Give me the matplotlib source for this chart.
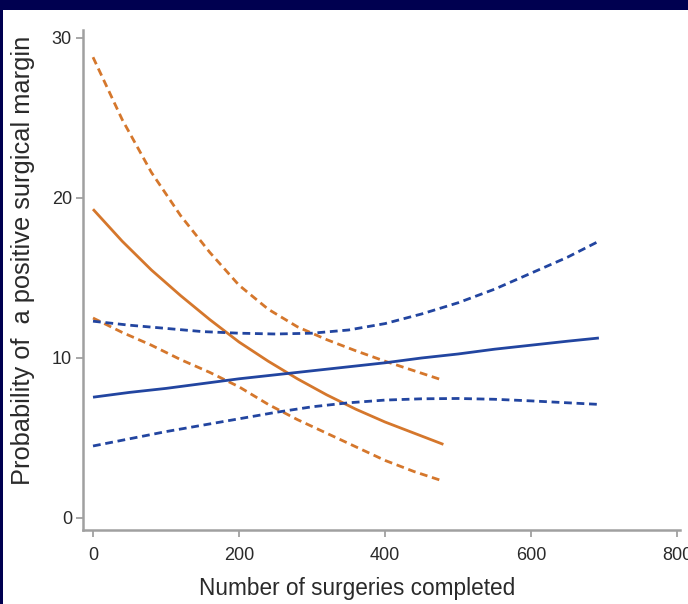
import matplotlib
matplotlib.use("Agg")
import matplotlib.pyplot as plt

plt.rcParams['font.family'] = ['Liberation Sans', 'DejaVu Sans']

# Data
x_orange = [0, 40, 80, 120, 160, 200, 240, 280, 320, 360, 400, 440, 480]
orange_fit = [19.3, 17.3, 15.5, 13.9, 12.4, 11.0, 9.8, 8.7, 7.7, 6.8, 6.0, 5.3, 4.6]
orange_upper = [28.8, 24.9, 21.6, 18.9, 16.6, 14.55, 13.05, 11.95, 11.15, 10.45, 9.8, 9.2, 8.6]
orange_lower = [12.5, 11.6, 10.8, 9.9, 9.1, 8.2, 7.1, 6.15, 5.3, 4.45, 3.6, 2.9, 2.3]

x_blue = [0, 50, 100, 150, 200, 250, 300, 350, 400, 450, 500, 550, 600, 650, 693]
blue_fit = [7.55, 7.85, 8.1, 8.4, 8.7, 8.95, 9.2, 9.45, 9.7, 10.0, 10.25, 10.55, 10.8, 11.05, 11.25]
blue_upper = [12.3, 12.05, 11.85, 11.65, 11.55, 11.5, 11.55, 11.75, 12.15, 12.75, 13.45, 14.3, 15.3, 16.3, 17.3]
blue_lower = [4.5, 4.95, 5.4, 5.8, 6.2, 6.6, 6.95, 7.2, 7.37, 7.45, 7.47, 7.42, 7.32, 7.2, 7.1]

x_ticks = [0, 200, 400, 600, 800]
y_ticks = [0, 10, 20, 30]
x_label = "Number of surgeries completed"
y_label = "Probability of  a positive surgical margin"

ORANGE = "#d5772c"
BLUE = "#2245a0"
NAVY = "#000050"
TEXT = "#2a2a2a"
W, H = 688, 604

fig = plt.figure(figsize=(W / 100, H / 100), dpi=100)
fig.patch.set_facecolor(NAVY)

bg = fig.add_axes([3 / W, 0, 1 - 3 / W, (H - 10) / H], zorder=-10)
bg.set_facecolor("white")
bg.set_xticks([])
bg.set_yticks([])
for s in bg.spines.values():
    s.set_visible(False)

ax = fig.add_axes([83 / W, (H - 530) / H, (680 - 83) / W, (530 - 30) / H], zorder=1)
ax.set_facecolor("none")

lw = 2.0
dash = (2.8, 1.7)
ax.plot(x_orange, orange_fit, color=ORANGE, lw=lw, solid_capstyle="butt")
ax.plot(x_orange, orange_upper, color=ORANGE, lw=lw, linestyle=(0, dash))
ax.plot(x_orange, orange_lower, color=ORANGE, lw=lw, linestyle=(0, dash))
ax.plot(x_blue, blue_fit, color=BLUE, lw=lw, solid_capstyle="butt")
ax.plot(x_blue, blue_upper, color=BLUE, lw=lw, linestyle=(0, dash))
ax.plot(x_blue, blue_lower, color=BLUE, lw=lw, linestyle=(0, dash))

ax.set_xlim(-13.7, 804.1)
ax.set_ylim(-0.75, 30.5)
ax.set_xticks(x_ticks)
ax.set_yticks(y_ticks)
ax.set_yticklabels([str(v) for v in y_ticks], rotation=0)

for s in ["top", "right"]:
    ax.spines[s].set_visible(False)
for s in ["left", "bottom"]:
    ax.spines[s].set_color("#a0a0a0")
    ax.spines[s].set_linewidth(1.8)
ax.tick_params(axis="both", color="#a0a0a0", width=1.3, length=5, labelsize=13,
               labelcolor=TEXT)
ax.tick_params(axis="x", pad=7)
ax.tick_params(axis="y", pad=3)

fig.text(357 / W, 1 - 588 / H, x_label, fontsize=16.3, color=TEXT,
         ha="center", va="center")
fig.text(23 / W, 1 - 260 / H, y_label, fontsize=18.3, color=TEXT,
         ha="center", va="center", rotation=90)

fig.savefig("out.png", dpi=100, facecolor=NAVY)
